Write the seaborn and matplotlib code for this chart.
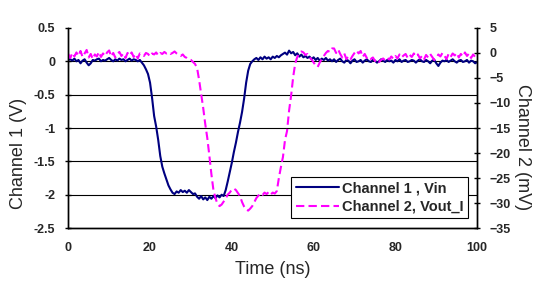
import numpy as np
import pandas as pd
import matplotlib
matplotlib.use('Agg')
import matplotlib.pyplot as plt
import seaborn as sns

# Valores, passo de 0.5 ns (uma linha = 5 ns)
ch1_vin = [
    0.02, 0.03, 0.01, 0.04, 0.00, 0.02, -0.03, 0.01, 0.03, -0.02,
    -0.06, -0.03, 0.02, 0.01, 0.03, 0.04, 0.00, 0.02, 0.01, 0.03,
    0.05, 0.02, 0.00, 0.03, 0.01, 0.04, 0.02, 0.03, 0.00, 0.02,
    0.04, 0.01, 0.03, 0.02, 0.00, 0.02, -0.02, -0.06, -0.12, -0.19,
    -0.32, -0.55, -0.82, -0.98, -1.18, -1.42, -1.58, -1.68, -1.77, -1.86,
    -1.92, -1.97, -1.99, -1.95, -1.97, -1.93, -1.96, -1.94, -1.97, -1.93,
    -1.96, -1.99, -1.98, -2.03, -2.06, -2.02, -2.07, -2.04, -2.08, -2.03,
    -2.06, -2.02, -2.05, -2.01, -2.04, -2.00, -2.02, -1.93, -1.80, -1.66,
    -1.52, -1.36, -1.22, -1.06, -0.92, -0.76, -0.56, -0.32, -0.14, -0.04,
    0.00, 0.03, 0.05, 0.02, 0.06, 0.03, 0.07, 0.04, 0.06, 0.03,
    0.07, 0.05, 0.08, 0.06, 0.09, 0.11, 0.13, 0.10, 0.16, 0.12,
    0.14, 0.09, 0.12, 0.07, 0.10, 0.06, 0.08, 0.05, 0.07, 0.03,
    0.06, 0.02, 0.05, 0.01, 0.04, 0.02, 0.05, 0.01, 0.03, 0.00,
    0.03, -0.01, 0.02, 0.04, 0.00, -0.02, 0.02, 0.01, -0.03, 0.01,
    0.03, -0.01, 0.00, 0.02, -0.02, 0.01, 0.03, 0.00, -0.01, 0.02,
    0.01, -0.02, 0.00, 0.03, 0.01, -0.01, 0.02, 0.00, 0.01, -0.02,
    0.02, 0.00, 0.03, -0.01, 0.01, 0.02, -0.01, 0.00, 0.02, 0.01,
    -0.02, 0.01, 0.03, 0.00, -0.01, 0.02, 0.00, -0.03, 0.01, 0.02,
    -0.03, -0.07, -0.02, 0.01, 0.00, 0.02, -0.01, 0.01, 0.03, 0.00,
    -0.02, 0.01, 0.02, -0.01, 0.00, 0.02, -0.02, 0.01, 0.00, -0.03,
    -0.01,
]

ch2_vout = [
    -0.2, -1.0, 0.0, -0.7, 0.1, -0.6, 0.4, -0.8, -0.1, 0.6,
    -0.9, -0.2, -1.2, -0.3, -0.7, 0.2, -0.8, -0.1, -0.6, 0.1,
    0.5, -0.7, 0.0, -0.9, -0.2, 0.2, -0.6, -0.1, -1.0, 0.0,
    -0.5, 0.1, -0.8, -0.2, -1.1, -0.1, -0.3, -0.6, 0.0, -0.2,
    -0.7, -0.1, -0.3, 0.1, -0.5, 0.0, -0.2, 0.2, -0.1, 0.1,
    -0.2, 0.0, 0.3, -0.1, -0.4, -0.6, -0.3, -0.8, -1.0, -1.3,
    -1.4, -1.8, -2.2, -3.0, -5.4, -8.2, -11.0, -14.2, -17.0, -20.5,
    -24.2, -27.4, -29.0, -30.2, -30.6, -30.3, -29.7, -29.1, -28.3, -27.9,
    -27.3, -27.1, -27.4, -28.0, -28.6, -29.8, -30.7, -31.3, -31.5, -31.1,
    -30.6, -29.8, -29.0, -28.5, -28.1, -28.4, -27.9, -28.2, -27.8, -28.3,
    -27.9, -28.1, -27.6, -25.0, -22.8, -20.8, -17.4, -15.6, -11.5, -8.5,
    -4.8, -2.1, -0.8, -0.2, 0.3, 0.1, -0.4, -0.2, -0.9, -1.3,
    -1.9, -2.5, -2.8, -1.9, -1.2, -0.6, 0.0, 0.4, 0.2, 0.9,
    0.9, 0.0, 0.7, -0.2, -0.9, -0.1, -1.2, -0.7, -1.3, -0.6,
    0.0, 0.5, -0.1, 0.4, -0.8, -0.2, -1.0, -0.7, -1.2, -0.9,
    -1.6, -1.3, -1.8, -1.4, -1.1, -1.5, -1.0, -1.3, -0.7, -1.2,
    -0.6, -1.1, -0.3, -0.9, -0.5, -0.2, -1.0, -0.4, -0.8, -0.1,
    -0.7, -0.3, -1.1, -0.6, -1.3, -0.4, -0.9, -0.2, -0.8, -1.4,
    -1.0, -0.3, -0.7, 0.0, -0.6, -1.2, -0.2, -0.8, -0.1, -0.5,
    0.0, -0.9, -0.2, -0.7, 0.1, -0.6, -0.1, -1.0, -0.3, -0.8,
    -0.6,
]

time_ns = np.arange(len(ch1_vin)) * 0.5

left_ticks = [-2.5, -2, -1.5, -1, -0.5, 0, 0.5]
left_labels = ['-2.5', '-2', '-1.5', '-1', '-0.5', '0', '0.5']
right_ticks = [-35, -30, -25, -20, -15, -10, -5, 0, 5]
x_ticks = [0, 20, 40, 60, 80, 100]

df = pd.DataFrame({'time': time_ns, 'ch1': ch1_vin, 'ch2': ch2_vout})

sns.set_style('white')
plt.rcParams['font.family'] = ['Liberation Sans', 'DejaVu Sans']

fig, ax = plt.subplots(figsize=(5.46, 2.88), dpi=100)
fig.subplots_adjust(left=0.125, right=0.874, top=0.903, bottom=0.208)
ax2 = ax.twinx()

sns.lineplot(data=df, x='time', y='ch1', ax=ax, color='#000080', linewidth=1.5,
             label='Channel 1 , Vin', legend=False)
sns.lineplot(data=df, x='time', y='ch2', ax=ax2, color='#FF00FF', linewidth=1.5,
             linestyle=(0, (4, 2)), label='Channel 2, Vout_I', legend=False)

# grelha horizontal
for y in [-2, -1.5, -1, -0.5, 0]:
    ax.axhline(y, color='black', linewidth=0.8, zorder=0)

ax.set_xlim(0, 100)
ax.set_ylim(-2.5, 0.5)
ax2.set_ylim(-35, 5)
ax.set_xticks(x_ticks)
ax.set_yticks(left_ticks)
ax.set_yticklabels(left_labels)
ax2.set_yticks(right_ticks)

for a in (ax, ax2):
    a.spines['top'].set_visible(False)
    for s in ('left', 'right', 'bottom'):
        a.spines[s].set_color('black')
        a.spines[s].set_linewidth(1.0)
    a.tick_params(axis='both', which='major', length=4.5, width=1, color='black',
                  labelsize=9, direction='inout')
    for lab in a.get_xticklabels() + a.get_yticklabels():
        lab.set_fontweight('bold')
ax.tick_params(axis='x', pad=8)
ax.tick_params(axis='y', left=True, pad=7)
ax2.tick_params(axis='y', right=True, pad=6.5)

ax.set_xlabel('Time (ns)', fontsize=13)
ax.set_ylabel('Channel 1 (V)', fontsize=13)
ax2.set_ylabel('Channel 2 (mV)', fontsize=13, rotation=270, va='center')
ax.xaxis.set_label_coords(0.5, -0.165)
ax.yaxis.set_label_coords(-0.1, 0.375)
ax2.yaxis.set_label_coords(1.11, 0.405)

h1, l1 = ax.get_legend_handles_labels()
h2, l2 = ax2.get_legend_handles_labels()
leg = ax2.legend(h1 + h2, l1 + l2, loc='lower right',
                 bbox_to_anchor=(0.978, 0.05), fancybox=False, framealpha=1,
                 edgecolor='black', handlelength=3.0, borderpad=0.3,
                 labelspacing=0.3, handletextpad=0.2, borderaxespad=0,
                 prop={'size': 10.5, 'weight': 'bold'})
leg.get_frame().set_linewidth(0.8)

plt.savefig('out.png', dpi=100)
